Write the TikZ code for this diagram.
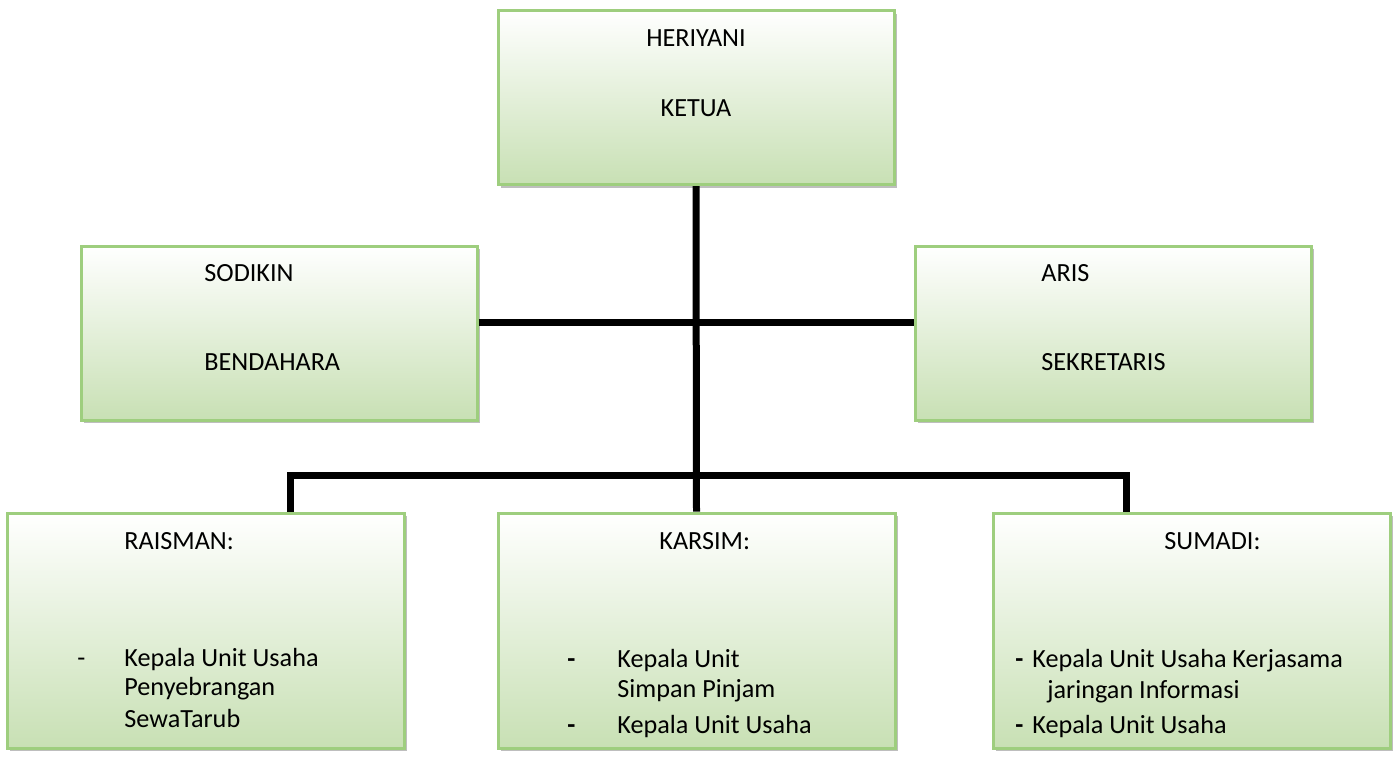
\documentclass[tikz,border=0pt]{standalone}
\usepackage{fontspec}
\setmainfont{Carlito}
\usepackage{xcolor}
\usetikzlibrary{positioning,shadows}
\definecolor{boxline}{RGB}{158,206,126}
\definecolor{boxgreen}{RGB}{200,224,180}
\definecolor{shadowgray}{RGB}{190,190,190}

\tikzset{
  unitbox/.style={rectangle, draw=boxline, line width=1.5pt, top color=white, bottom color=boxgreen,
    drop shadow={shadow xshift=1.5pt, shadow yshift=-1.5pt, fill=shadowgray, opacity=1}},
  upperbox/.style={unitbox, minimum width=198pt, minimum height=87pt},
  lowerbox/.style={unitbox, minimum width=198.5pt, minimum height=117.5pt},
  txt/.style={anchor=base west, inner sep=0pt},
  link/.style={line width=3.5pt, line join=miter}
}

\begin{document}
\begin{tikzpicture}[x=0.5pt, y=-0.5pt, font=\fontsize{13.1pt}{15pt}\selectfont]
\useasboundingbox (0,0) rectangle (1399,756);

%%% boxes
\node [upperbox] (ketua) at (696,97.5) {};
\node [upperbox] (bendahara) at (279,333) {};
\node [upperbox] (sekretaris) at (1113,333) {};
\node [lowerbox] (raisman) at (205.5,630.5) {};
\node [lowerbox] (karsim) at (696.5,630.5) {};
\node [lowerbox] (sumadi) at (1191.5,630.5) {};

%%% KETUA
\node [inner sep=0pt, anchor=base] (ketua-name) at (696,46) {HERIYANI};
\node [inner sep=0pt, anchor=base] (ketua-role) at (696,116) {KETUA};

%%% BENDAHARA
\node [txt] (bendahara-name) at (204,281) {SODIKIN};
\node [txt] (bendahara-role) at (204,370) {BENDAHARA};

%%% SEKRETARIS
\node [txt] (sekretaris-name) at (1041,281) {ARIS};
\node [txt] (sekretaris-role) at (1041,370) {SEKRETARIS};

%%% RAISMAN
\node [txt] (raisman-name) at (124,549) {RAISMAN:};
\node [txt] (raisman-dash) at (77,666) {-};
\node [txt] (raisman-a) at (124,666) {Kepala Unit Usaha};
\node [txt] (raisman-b) at (124,695) {Penyebrangan};
\node [txt] (raisman-c) at (124,727) {SewaTarub};

%%% KARSIM
\node [txt] (karsim-name) at (659,549) {KARSIM:};
\node [txt] (karsim-dash1) at (567,667) {\textbf{-}};
\node [txt] (karsim-a) at (617,667) {Kepala Unit};
\node [txt] (karsim-b) at (617,697) {Simpan Pinjam};
\node [txt] (karsim-dash2) at (567,733) {\textbf{-}};
\node [txt] (karsim-c) at (617,733) {Kepala Unit Usaha};

%%% SUMADI
\node [txt] (sumadi-name) at (1164,549) {SUMADI:};
\node [txt] (sumadi-dash1) at (1015,667) {\textbf{-}};
\node [txt] (sumadi-a) at (1032,667) {Kepala Unit Usaha Kerjasama};
\node [txt] (sumadi-b) at (1047,698) {jaringan Informasi};
\node [txt] (sumadi-dash2) at (1015,733) {\textbf{-}};
\node [txt] (sumadi-c) at (1032,733) {Kepala Unit Usaha};

%%% connections
\coordinate (hub) at (696,322);
\coordinate (leftdrop) at (290,475);
\coordinate (rightdrop) at (1126,475);

\draw [link] (ketua.south) -- (karsim.north);
\draw [link] (bendahara.east |- hub) -- (sekretaris.west |- hub);
\draw [link] (raisman.north -| leftdrop) -- (leftdrop) -- (rightdrop) -- (sumadi.north -| rightdrop);

\end{tikzpicture}
\end{document}
